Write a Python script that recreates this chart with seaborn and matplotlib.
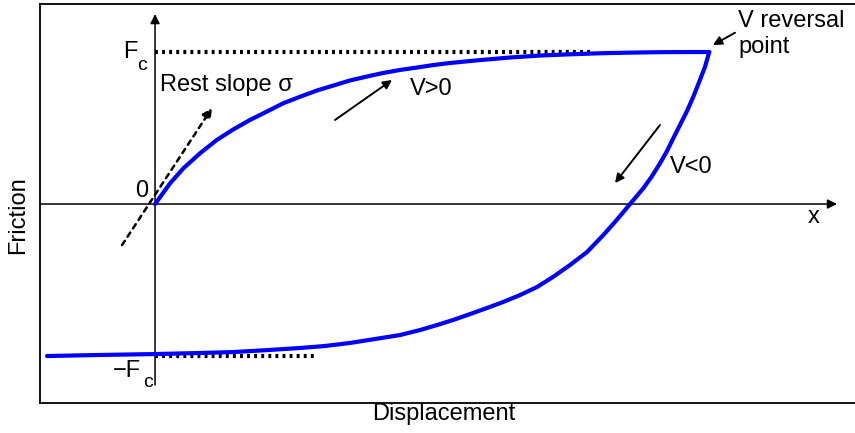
import matplotlib
matplotlib.use("Agg")
import matplotlib.pyplot as plt
import pandas as pd
import seaborn as sns

# Loading branch (V>0): from the origin up towards +Fc
load_x = [0.0, 0.1, 0.189, 0.3, 0.411, 0.522, 0.633, 0.745, 0.855, 0.967,
          1.08, 1.2, 1.3, 1.413, 1.52, 1.633, 1.747, 1.853, 1.967, 2.167,
          2.367, 2.567, 2.767, 2.967, 3.167, 3.367, 3.567, 3.695]
load_f = [0.0, 0.136, 0.235, 0.334, 0.421, 0.491, 0.553, 0.608, 0.663, 0.706,
          0.747, 0.783, 0.813, 0.839, 0.862, 0.882, 0.898, 0.914, 0.928, 0.947,
          0.964, 0.977, 0.985, 0.992, 0.996, 0.999, 1.0, 1.0]

# Unloading branch (V<0): from the reversal point down towards -Fc
unload_x = [3.695, 3.667, 3.633, 3.589, 3.545, 3.5, 3.455, 3.411, 3.367, 3.311,
            3.255, 3.167, 3.078, 2.989, 2.88, 2.767, 2.653, 2.547, 2.433, 2.32,
            2.213, 2.1, 1.987, 1.88, 1.767, 1.633, 1.467, 1.3, 1.133, 0.967,
            0.747, 0.52, 0.3, 0.0, -0.367, -0.72]
unload_f = [1.0, 0.903, 0.816, 0.706, 0.608, 0.520, 0.432, 0.344, 0.268, 0.180,
            0.103, 0.0, -0.105, -0.204, -0.316, -0.401, -0.480, -0.546, -0.599,
            -0.645, -0.684, -0.724, -0.763, -0.796, -0.829, -0.862, -0.888,
            -0.914, -0.934, -0.947, -0.961, -0.974, -0.980, -0.987, -0.993, -1.0]

# Coulomb friction level and the extent of its guide lines
fc_level = 1.0
fc_guide_end = 2.92
neg_fc_guide_end = 1.067

sns.set_style("white")
plt.rcParams["font.family"] = ["Liberation Sans", "DejaVu Sans"]
plt.rcParams["text.color"] = "black"

fig = plt.figure(figsize=(8.55, 4.33), dpi=100)
ax = fig.add_axes([40 / 855, 30 / 433, 815 / 855, 399 / 433])
ax.set_xlim(-0.767, 4.667)
ax.set_ylim(-1.309, 1.316)

curve = pd.concat([
    pd.DataFrame({"x": load_x, "f": load_f, "branch": "load"}),
    pd.DataFrame({"x": unload_x, "f": unload_f, "branch": "unload"}),
])
for name, part in curve.groupby("branch"):
    sns.lineplot(data=part, x="x", y="f", sort=False, color="#0000ff",
                 lw=3.0, ax=ax, zorder=4, estimator=None)

# Coulomb level guides
ax.plot([0, fc_guide_end], [fc_level, fc_level], color="black", lw=3,
        ls=(0, (0.7, 1.0)), zorder=3)
ax.plot([0, neg_fc_guide_end], [-fc_level, -fc_level], color="black", lw=3,
        ls=(0, (0.7, 1.0)), zorder=3)

# Coordinate axes with arrowheads
ax.annotate("", xy=(0, 1.25), xytext=(0, -1.191),
            arrowprops=dict(arrowstyle="-|>", color="black", lw=1.1,
                            mutation_scale=14, shrinkA=0, shrinkB=0))
ax.annotate("", xy=(4.547, 0), xytext=(-0.767, 0),
            arrowprops=dict(arrowstyle="-|>", color="black", lw=1.1,
                            mutation_scale=14, shrinkA=0, shrinkB=0))

# Rest slope arrow
ax.annotate("", xy=(0.38, 0.632), xytext=(-0.22, -0.27),
            arrowprops=dict(arrowstyle="-|>", color="black", lw=1.8,
                            ls=(0, (2.0, 2.0)), mutation_scale=14,
                            shrinkA=0, shrinkB=0))

# Direction arrows
arrow_kw = dict(arrowstyle="-|>", color="black", lw=1.4, mutation_scale=13,
                shrinkA=0, shrinkB=0)
ax.annotate("", xy=(1.58, 0.816), xytext=(1.2, 0.553), arrowprops=arrow_kw)
ax.annotate("", xy=(3.067, 0.138), xytext=(3.367, 0.52), arrowprops=arrow_kw)
ax.annotate("", xy=(3.72, 1.046), xytext=(3.867, 1.127), arrowprops=arrow_kw)

fs = 17
sub = 14
ax.text(-0.213, 0.96, "F", fontsize=fs, ha="left", va="baseline")
ax.text(-0.12, 0.882, "c", fontsize=sub, ha="left", va="baseline")
ax.text(-0.28, -1.138, "\u2212F", fontsize=fs, ha="left", va="baseline")
ax.text(-0.08, -1.204, "c", fontsize=sub, ha="left", va="baseline")
ax.text(-0.047, 0.046, "0", fontsize=fs, ha="right", va="baseline")
ax.text(0.033, 0.743, "Rest slope \u03c3", fontsize=fs, ha="left", va="baseline")
ax.text(1.7, 0.717, "V>0", fontsize=fs, ha="left", va="baseline")
ax.text(3.433, 0.204, "V<0", fontsize=fs, ha="left", va="baseline")
ax.text(3.887, 1.164, "V reversal", fontsize=fs, ha="left", va="baseline")
ax.text(3.887, 0.993, "point", fontsize=fs, ha="left", va="baseline")
ax.text(4.353, -0.125, "x", fontsize=fs, ha="left", va="baseline")

ax.set_xticks([])
ax.set_yticks([])
ax.set_xlabel("")
ax.set_ylabel("")
for side in ["left", "top", "bottom"]:
    ax.spines[side].set_color("black")
    ax.spines[side].set_linewidth(1.3)
ax.spines["right"].set_visible(False)

fig.text(18 / 855, 1 - 215 / 433, "Friction", fontsize=fs, rotation=90,
         ha="center", va="center")
fig.text(444 / 855, 1 - 414 / 433, "Displacement", fontsize=fs,
         ha="center", va="center")

fig.savefig("out.png", dpi=100)
